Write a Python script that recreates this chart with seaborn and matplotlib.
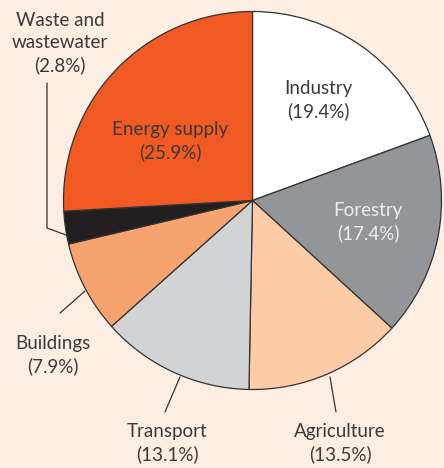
import matplotlib
matplotlib.use("Agg")
import matplotlib.pyplot as plt
import seaborn as sns

categories = ["Industry", "Forestry", "Agriculture", "Transport", "Buildings",
              "Waste and\nwastewater", "Energy supply"]
shares = [19.4, 17.4, 13.5, 13.1, 7.9, 2.8, 25.9]
colors = ["#FFFFFF", "#939598", "#FDCBA6", "#D1D3D4", "#F7A370", "#231F20", "#F15A22"]

sns.set_theme(style="white")
plt.rcParams["font.family"] = ["Lato", "DejaVu Sans"]

BG = "#FDEEE3"
TXT = "#3A3A3A"

fig = plt.figure(figsize=(4.44, 4.68), dpi=100, facecolor=BG)
ax = fig.add_axes([0, 0, 1, 1])
ax.set_facecolor(BG)

H = 468
cx, cy, r = 252.5, H - 200.5, 189

ax.pie(shares, colors=sns.color_palette(colors), startangle=90, counterclock=False,
       center=(cx, cy), radius=r,
       wedgeprops=dict(edgecolor="#333333", linewidth=0.9))
ax.set_xlim(0, 444)
ax.set_ylim(0, H)
ax.set_aspect("equal")
ax.axis("off")

labels = [f"{c}\n({v}%)" for c, v in zip(categories, shares)]
pos = [(318, 100), (368, 222), (340, 443), (167, 443), (53, 355), (60, 43), (170, 141)]
tcolors = [TXT, "#EDEDED", TXT, TXT, TXT, TXT, TXT]
for lab, (x, y), tc in zip(labels, pos, tcolors):
    ax.text(x, H - y, lab, ha="center", va="center", fontsize=13.5, color=tc,
            linespacing=1.35, fontweight="normal")

# leader lines
lc = "#333333"
ax.plot([47, 47, 66], [H - 83, H - 228, H - 235], color=lc, lw=0.9)
ax.plot([85, 60], [H - 291, H - 313], color=lc, lw=0.9)
ax.plot([180, 165], [H - 377, H - 412], color=lc, lw=0.9)
ax.plot([330, 336], [H - 377, H - 412], color=lc, lw=0.9)

fig.savefig("out.png", dpi=100, facecolor=BG)
